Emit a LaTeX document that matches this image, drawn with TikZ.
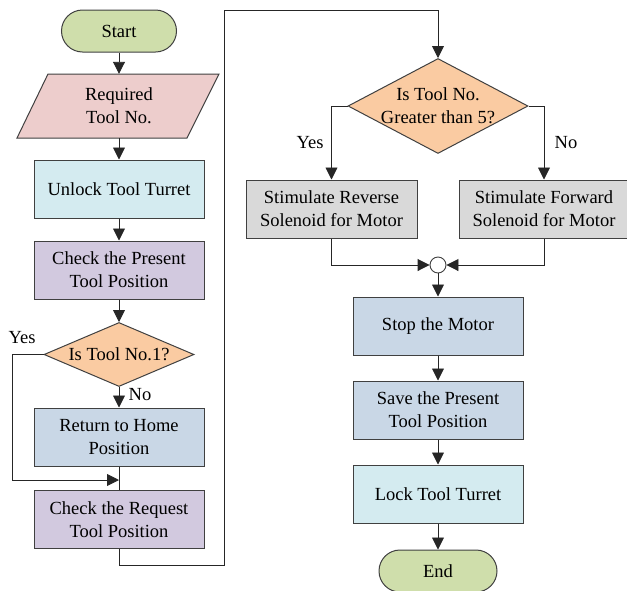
\documentclass[tikz,border=0pt]{standalone}
\usepackage{fontspec}
\setmainfont{Liberation Serif}
\usetikzlibrary{arrows.meta,shapes.geometric}

\definecolor{termfill}{HTML}{CFDEAB}
\definecolor{inputfill}{HTML}{EDCDCC}
\definecolor{cyanfill}{HTML}{D4EBF0}
\definecolor{lavfill}{HTML}{D2C9DF}
\definecolor{orangefill}{HTML}{FACBA2}
\definecolor{bluefill}{HTML}{C9D7E6}
\definecolor{greyfill}{HTML}{D9D9D9}
\definecolor{edge}{HTML}{404040}

\tikzset{
  every node/.style={font=\fontsize{18.5}{23}\selectfont, align=center},
  terminal/.style={draw=edge, line width=1pt, fill=termfill, rounded corners=21pt,
    minimum height=42pt, inner sep=0pt},
  procbox/.style={draw=edge, line width=1pt, minimum width=170pt, minimum height=58pt, inner sep=0pt},
  decision/.style={draw=edge, line width=1pt, fill=orangefill, diamond, inner sep=0pt},
  flow/.style={draw=black!85, line width=0.9pt, -{Triangle[length=12pt,width=12pt]}},
  plain/.style={draw=black!85, line width=0.9pt},
  lbl/.style={inner sep=1pt}
}

\begin{document}
\begin{tikzpicture}[x=1pt, y=-1pt]
  \useasboundingbox (0,0) rectangle (627,590);

  % left column
  \node[terminal, minimum width=115pt] (start) at (119,31) {Start};
  \draw[line width=1pt, draw=edge, fill=inputfill]
    (48,74) -- (219,74) -- (187,138) -- (17,138) -- cycle;
  \node[minimum height=64pt, inner sep=0pt] (req) at (119,106) {Required\\Tool No.};
  \node[procbox, fill=cyanfill] (unlock) at (119,189) {Unlock Tool Turret};
  \node[procbox, fill=lavfill] (present) at (119,270) {Check the Present\\Tool Position};
  \node[decision, minimum width=150pt, minimum height=64pt] (d1) at (119,354.5) {};
  \node at (d1) {Is Tool No.1?};
  \node[procbox, fill=bluefill] (home) at (119,437) {Return to Home\\Position};
  \node[procbox, fill=lavfill] (request) at (119,519.5) {Check the Request\\Tool Position};

  % right column
  \node[decision, minimum width=180pt, minimum height=95pt] (d2) at (438,106) {};
  \node at (d2) {Is Tool No.\\Greater than 5?};
  \node[procbox, fill=greyfill, minimum width=171pt] (rev) at (331.5,209) {Stimulate Reverse\\Solenoid for Motor};
  \node[procbox, fill=greyfill, minimum width=170pt] (fwd) at (544,209) {Stimulate Forward\\Solenoid for Motor};
  \node[circle, draw=edge, line width=0.9pt, fill=white, minimum size=16pt, inner sep=0pt] (join) at (438,265) {};
  \node[procbox, fill=bluefill] (stop) at (438,326) {Stop the Motor};
  \node[procbox, fill=bluefill] (save) at (438,410) {Save the Present\\Tool Position};
  \node[procbox, fill=cyanfill] (lock) at (438,494) {Lock Tool Turret};
  \node[terminal, minimum width=118pt] (end) at (438,571) {End};

  % routing points
  \coordinate (yesleft) at (12,354.5);
  \coordinate (merge) at (119,480);
  \coordinate (low) at (224,565);
  \coordinate (high) at (224,10);

  % connectors, left column
  \draw[flow] (start) -- (req);
  \draw[flow] (req) -- (unlock);
  \draw[flow] (unlock) -- (present);
  \draw[flow] (present) -- (d1);
  \draw[flow] (d1) -- (home);
  \node[lbl] (no1) at (140,395) {No};
  \draw[flow] (d1.west) -- (yesleft) |- (merge);
  \node[lbl] (yes1) at (22,338) {Yes};
  \draw[plain] (home) -- (request);
  \draw[flow] (request.south) |- (low) -- (high) -| (d2.north);

  % connectors, right column
  \draw[flow] (d2.west) -| (rev.north);
  \draw[flow] (d2.east) -| (fwd.north);
  \node[lbl] (yes2) at (310,143) {Yes};
  \node[lbl] (no2) at (566,143) {No};
  \draw[flow] (rev.south) |- (join.west);
  \draw[flow] (fwd.south) |- (join.east);
  \draw[flow] (join) -- (stop);
  \draw[flow] (stop) -- (save);
  \draw[flow] (save) -- (lock);
  \draw[flow] (lock) -- (end);
\end{tikzpicture}
\end{document}
